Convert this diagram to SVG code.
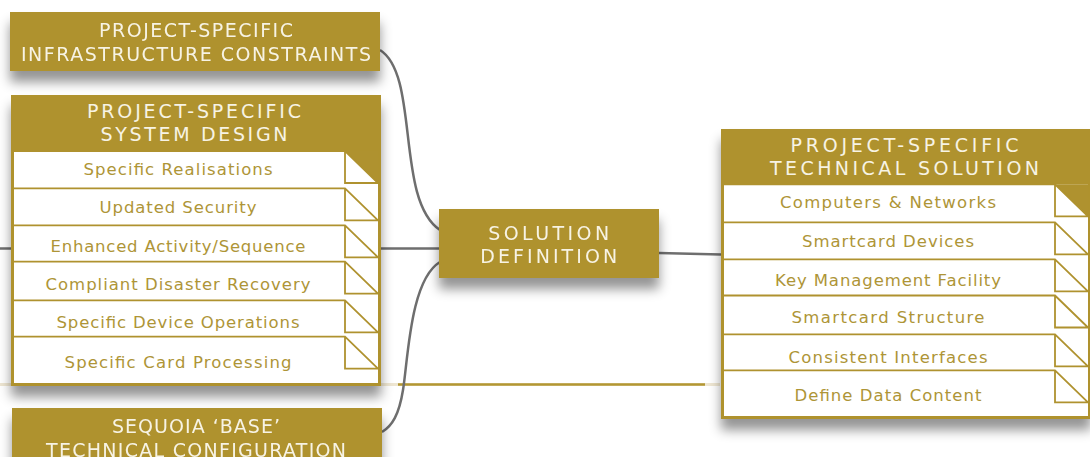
<svg xmlns="http://www.w3.org/2000/svg" width="1090" height="457" viewBox="0 0 1090 457">
<defs>
<filter id="sh" x="-10%" y="-20%" width="120%" height="170%">
<feDropShadow dx="0" dy="11" stdDeviation="6" flood-color="#000" flood-opacity="0.42"/>
</filter>
<style>
.gold{fill:#AF922F}
.white{fill:#FFFFFF}
.hd{font-family:"DejaVu Sans","Liberation Sans",sans-serif;font-size:19px;fill:#F7F3E4;text-anchor:middle}
.row{font-family:"DejaVu Sans","Liberation Sans",sans-serif;font-size:16.5px;fill:#AE9537;text-anchor:middle}
.ln{fill:none;stroke:#AF922F;stroke-width:1.8}
.con{fill:none;stroke:#6E6E6E;stroke-width:2.5}
</style>
</defs>
<rect width="1090" height="457" fill="#FFFFFF"/>
<g id="connectors">
<line x1="0" y1="384.5" x2="720" y2="384.5" stroke="#EEE6D2" stroke-width="3"/>
<line x1="398" y1="384.5" x2="705" y2="384.5" stroke="#B39733" stroke-width="2.5"/>
<path class="con" d="M380,50 C420,75 395,200 440,230"/>
<path class="con" d="M0,248.5 H440"/>
<path class="con" d="M440,262 C410,280 408,360 403,390 C399,415 392,426 382,432"/>
<path class="con" d="M659,253 L721,254.5"/>
</g>
<g id="infrastructure-constraints" filter="url(#sh)">
<rect class="gold" x="10" y="12" width="370" height="59"/>
<text class="hd" x="196" y="36.7" textLength="194" lengthAdjust="spacing">PROJECT-SPECIFIC</text>
<text class="hd" x="196" y="60.7" textLength="350" lengthAdjust="spacing">INFRASTRUCTURE CONSTRAINTS</text>
</g>
<g id="system-design">
<rect class="gold" x="11" y="95" width="370" height="291" filter="url(#sh)"/>
<rect class="white" x="14" y="151" width="364" height="232"/>
<path class="gold" d="M345,151 H378 V183 Z"/>
<text class="hd" x="194" y="118.3" textLength="214" lengthAdjust="spacing">PROJECT-SPECIFIC</text>
<text class="hd" x="194" y="140.7" textLength="187" lengthAdjust="spacing">SYSTEM DESIGN</text>
<path class="ln" d="M14,151 H345 L378,183 M345,151 V183 H378"/>
<path class="ln" d="M14,188.3 H345 L378,220.3 M345,188.3 V220.3 H378"/>
<path class="ln" d="M14,225.3 H345 L378,257.3 M345,225.3 V257.3 H378"/>
<path class="ln" d="M14,261.7 H345 L378,293.7 M345,261.7 V293.7 H378"/>
<path class="ln" d="M14,300.3 H345 L378,332.3 M345,300.3 V332.3 H378"/>
<path class="ln" d="M14,336.7 H345 L378,368.7 M345,336.7 V368.7 H378"/>
<text class="row" x="178" y="175" textLength="189" lengthAdjust="spacing">Specific Realisations</text>
<text class="row" x="178" y="212.7" textLength="157" lengthAdjust="spacing">Updated Security</text>
<text class="row" x="178" y="251.7" textLength="255" lengthAdjust="spacing">Enhanced Activity/Sequence</text>
<text class="row" x="178" y="290" textLength="265" lengthAdjust="spacing">Compliant Disaster Recovery</text>
<text class="row" x="178" y="328.3" textLength="243" lengthAdjust="spacing">Specific Device Operations</text>
<text class="row" x="178" y="367.7" textLength="227" lengthAdjust="spacing">Specific Card Processing</text>
</g>
<g id="base-configuration" filter="url(#sh)">
<rect class="gold" x="12" y="408" width="370" height="60"/>
<text class="hd" x="196" y="432.7" textLength="168" lengthAdjust="spacing">SEQUOIA ‘BASE’</text>
<text class="hd" x="196" y="457.3" textLength="300" lengthAdjust="spacing">TECHNICAL CONFIGURATION</text>
</g>
<g id="solution-definition" filter="url(#sh)">
<rect class="gold" x="439" y="209" width="220" height="69"/>
<text class="hd" x="548.7" y="240" textLength="121" lengthAdjust="spacing">SOLUTION</text>
<text class="hd" x="548.7" y="263.3" textLength="137" lengthAdjust="spacing">DEFINITION</text>
</g>
<g id="technical-solution">
<rect class="gold" x="721" y="129" width="370" height="290" filter="url(#sh)"/>
<rect class="white" x="724" y="184.3" width="364" height="231.7"/>
<path class="gold" d="M1055,184.3 H1088 V216.3 Z"/>
<text class="hd" x="904.5" y="152.3" textLength="228" lengthAdjust="spacing">PROJECT-SPECIFIC</text>
<text class="hd" x="904.5" y="175" textLength="269" lengthAdjust="spacing">TECHNICAL SOLUTION</text>
<path class="ln" d="M724,184.3 H1055 L1088,216.3 M1055,184.3 V216.3 H1088"/>
<path class="ln" d="M724,222.3 H1055 L1088,254.3 M1055,222.3 V254.3 H1088"/>
<path class="ln" d="M724,259.3 H1055 L1088,291.3 M1055,259.3 V291.3 H1088"/>
<path class="ln" d="M724,295.5 H1055 L1088,327.5 M1055,295.5 V327.5 H1088"/>
<path class="ln" d="M724,334.3 H1055 L1088,366.3 M1055,334.3 V366.3 H1088"/>
<path class="ln" d="M724,370.3 H1055 L1088,402.3 M1055,370.3 V402.3 H1088"/>
<text class="row" x="888" y="208.3" textLength="216" lengthAdjust="spacing">Computers &amp; Networks</text>
<text class="row" x="888" y="246.7" textLength="172" lengthAdjust="spacing">Smartcard Devices</text>
<text class="row" x="888" y="286" textLength="226" lengthAdjust="spacing">Key Management Facility</text>
<text class="row" x="888" y="323.3" textLength="193" lengthAdjust="spacing">Smartcard Structure</text>
<text class="row" x="888" y="362.7" textLength="199" lengthAdjust="spacing">Consistent Interfaces</text>
<text class="row" x="888" y="401" textLength="187" lengthAdjust="spacing">Define Data Content</text>
</g>
</svg>
